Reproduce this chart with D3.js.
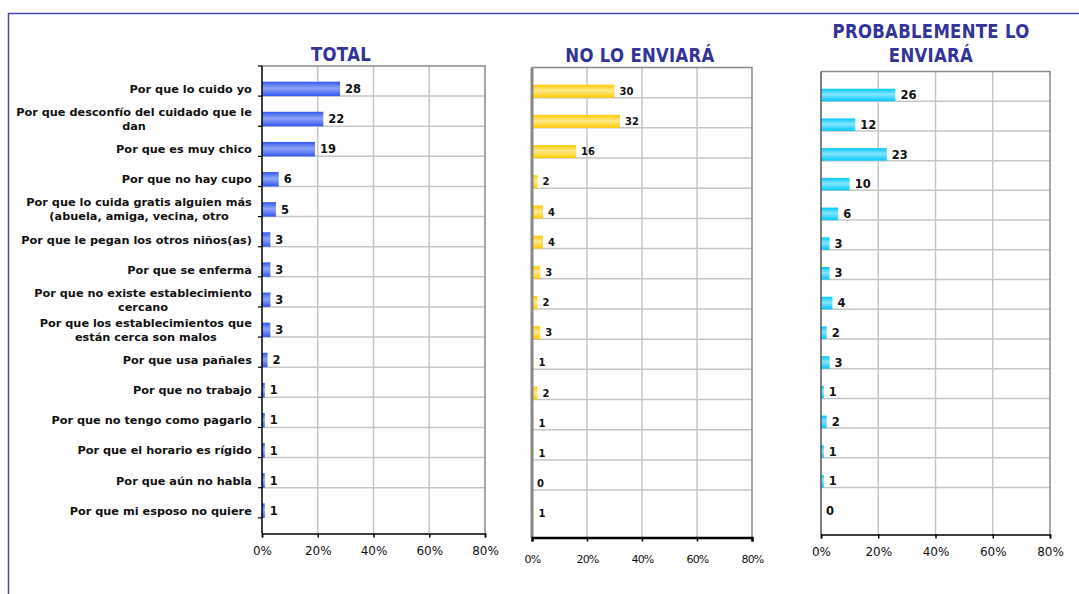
<!DOCTYPE html>
<html>
<head>
<meta charset="utf-8">
<script src="https://cdn.jsdelivr.net/npm/d3@7"></script>
<style>
  body { margin: 0; background: #fff; }
  text { font-family: "DejaVu Sans", Verdana, sans-serif; }
</style>
</head>
<body>
<svg id="chart" width="1079" height="594"></svg>
<script>
// reasons (multi-line labels split with \n)
var categories = [
  "Por que lo cuido yo",
  "Por que desconfío del cuidado que le\ndan",
  "Por que es muy chico",
  "Por que no hay cupo",
  "Por que lo cuida gratis alguien más\n(abuela, amiga, vecina, otro",
  "Por que le pegan los otros niños(as)",
  "Por que se enferma",
  "Por que no existe establecimiento\ncercano",
  "Por que los establecimientos que\nestán cerca son malos",
  "Por que usa pañales",
  "Por que no trabajo",
  "Por que no tengo como pagarlo",
  "Por que el horario es rígido",
  "Por que aún no habla",
  "Por que mi esposo no quiere"
];
var totalValues = [28, 22, 19, 6, 5, 3, 3, 3, 3, 2, 1, 1, 1, 1, 1];
var noEnviaraValues = [30, 32, 16, 2, 4, 4, 3, 2, 3, 0.5, 2, 0.5, 0.5, 0, 0.5];
var probableValues = [26, 12, 23, 10, 6, 3, 3, 4, 2, 3, 1, 2, 1, 1, 0];
var tickValues = [0, 20, 40, 60, 80];
var panelTitles = [["TOTAL"], ["NO LO ENVIARÁ"], ["PROBABLEMENTE LO", "ENVIARÁ"]];

var svg = d3.select("#chart");

// outer frame
svg.append("rect")
  .attr("x", 8.5).attr("y", 13.5)
  .attr("width", 1200).attr("height", 700)
  .attr("fill", "none")
  .attr("stroke", "#4848a8")
  .attr("stroke-width", 1.5);

var defs = svg.append("defs");
function gradient(id, edge, mid) {
  var g = defs.append("linearGradient").attr("id", id)
    .attr("x1", 0).attr("y1", 0).attr("x2", 0).attr("y2", 1);
  g.append("stop").attr("offset", "0%").attr("stop-color", edge);
  g.append("stop").attr("offset", "45%").attr("stop-color", mid);
  g.append("stop").attr("offset", "100%").attr("stop-color", edge);
}
gradient("gBlue", "#3358ee", "#8ea4f9");
gradient("gYellow", "#ffcc00", "#ffe98c");
gradient("gCyan", "#00c8fa", "#86e6ff");

var panels = [
  { values: totalValues, fill: "url(#gBlue)", left: 262, right: 485, top: 66, bottom: 533.5,
    pad: 0.52, valueSize: 11.5, tickSize: 12, tickY: 555, titleY: [61], titleX: 341,
    leftTicks: true, leftColor: "#000", leftWidth: 1.5, condensed: false },
  { values: noEnviaraValues, fill: "url(#gYellow)", left: 532, right: 752, top: 67.5, bottom: 537.5,
    pad: 0.57, valueSize: 10, tickSize: 11, tickY: 562.5, titleY: [61.5], titleX: 640,
    leftTicks: false, leftColor: "#888", leftWidth: 3, condensed: true },
  { values: probableValues, fill: "url(#gCyan)", left: 821, right: 1050, top: 71.5, bottom: 534.5,
    pad: 0.58, valueSize: 11.5, tickSize: 12, tickY: 556, titleY: [38, 61.5], titleX: 931,
    leftTicks: false, leftColor: "#555", leftWidth: 1.5, condensed: false }
];

panels.forEach(function(p, pi) {
  var x = d3.scaleLinear().domain([0, 80]).range([p.left, p.right]);
  var y = d3.scaleBand().domain(categories).range([p.top, p.bottom]).padding(p.pad);
  var step = y.step();
  var g = svg.append("g");

  // horizontal grid at row boundaries
  g.selectAll(".hgrid")
    .data(d3.range(1, categories.length))
    .enter().append("line")
      .attr("x1", p.left).attr("x2", p.right)
      .attr("y1", function(i) { return p.top + i * step; })
      .attr("y2", function(i) { return p.top + i * step; })
      .attr("stroke", "#c6c6c6").attr("stroke-width", 1.5);

  // vertical grid
  g.selectAll(".vgrid")
    .data(tickValues.slice(1, -1))
    .enter().append("line")
      .attr("x1", function(d) { return x(d); }).attr("x2", function(d) { return x(d); })
      .attr("y1", p.top).attr("y2", p.bottom)
      .attr("stroke", "#c6c6c6").attr("stroke-width", 1.5);

  // plot frame
  g.append("path")
    .attr("d", "M" + p.left + "," + p.top + "H" + p.right + "V" + p.bottom)
    .attr("fill", "none").attr("stroke", "#8a8a8a").attr("stroke-width", 1.5);

  // bars
  g.selectAll(".bar")
    .data(p.values)
    .enter().append("rect")
      .attr("x", x(0))
      .attr("y", function(d, i) { return y(categories[i]); })
      .attr("width", function(d) { return x(d) - x(0); })
      .attr("height", y.bandwidth())
      .attr("fill", p.fill);

  // left axis line over the bars
  g.append("line")
    .attr("x1", p.left).attr("x2", p.left).attr("y1", p.top).attr("y2", p.bottom)
    .attr("stroke", p.leftColor).attr("stroke-width", p.leftWidth);

  if (p.leftTicks) {
    g.selectAll(".ltick")
      .data(d3.range(categories.length + 1))
      .enter().append("line")
        .attr("x1", p.left - 4).attr("x2", p.left)
        .attr("y1", function(i) { return p.top + i * step; })
        .attr("y2", function(i) { return p.top + i * step; })
        .attr("stroke", "#000").attr("stroke-width", 1.2);
  }

  // value labels
  g.selectAll(".val")
    .data(p.values)
    .enter().append("text")
      .attr("x", function(d) { return x(d) + 5; })
      .attr("y", function(d, i) { return y(categories[i]) + y.bandwidth() / 2; })
      .attr("dy", "0.36em")
      .style("font-size", p.valueSize + "px")
      .style("font-weight", "bold")
      .attr("fill", "#111")
      .text(function(d) { return Math.round(d); });

  // x axis
  var xAxis = d3.axisBottom(x).tickValues(tickValues).tickSize(4).tickFormat(function(d) { return d + "%"; });
  var ax = g.append("g")
    .attr("transform", "translate(0," + p.bottom + ")")
    .call(xAxis);
  ax.select(".domain").attr("stroke", "#000").attr("stroke-width", pi == 1 ? 2.5 : 1.5);
  ax.selectAll(".tick line").attr("stroke", "#000").attr("stroke-width", 1.5);
  ax.selectAll(".tick text")
    .attr("y", p.tickY - p.bottom).attr("dy", 0)
    .style("font-family", "'DejaVu Sans', sans-serif")
    .style("font-size", p.tickSize + "px")
    .style("letter-spacing", p.condensed ? "-0.8px" : "0px")
    .attr("fill", "#111");

  // title
  p.titleY.forEach(function(ty, k) {
    svg.append("text")
      .attr("transform", "translate(" + p.titleX + "," + ty + ") scale(1,1.15)")
      .attr("text-anchor", "middle")
      .style("font-size", "16.5px")
      .style("font-weight", "bold")
      .style("letter-spacing", "0.3px")
      .attr("fill", "#333399")
      .text(panelTitles[pi][k]);
  });

  // category labels on the first panel only, centred block ending at x=252
  if (pi == 0) {
    categories.forEach(function(c, i) {
      var lines = c.split("\n");
      var cy = y(c) + y.bandwidth() / 2;
      var t = svg.append("text")
        .style("font-size", "11.3px")
        .style("font-weight", "bold")
        .attr("fill", "#111")
        .attr("text-anchor", "middle");
      lines.forEach(function(l, k) {
        t.append("tspan")
          .attr("x", 0)
          .attr("y", cy + (k - (lines.length - 1) / 2) * 14)
          .attr("dy", "0.36em")
          .text(l);
      });
      var w = t.node().getBBox().width;
      t.selectAll("tspan").attr("x", 252 - w / 2);
    });
  }
});
</script>
</body>
</html>
